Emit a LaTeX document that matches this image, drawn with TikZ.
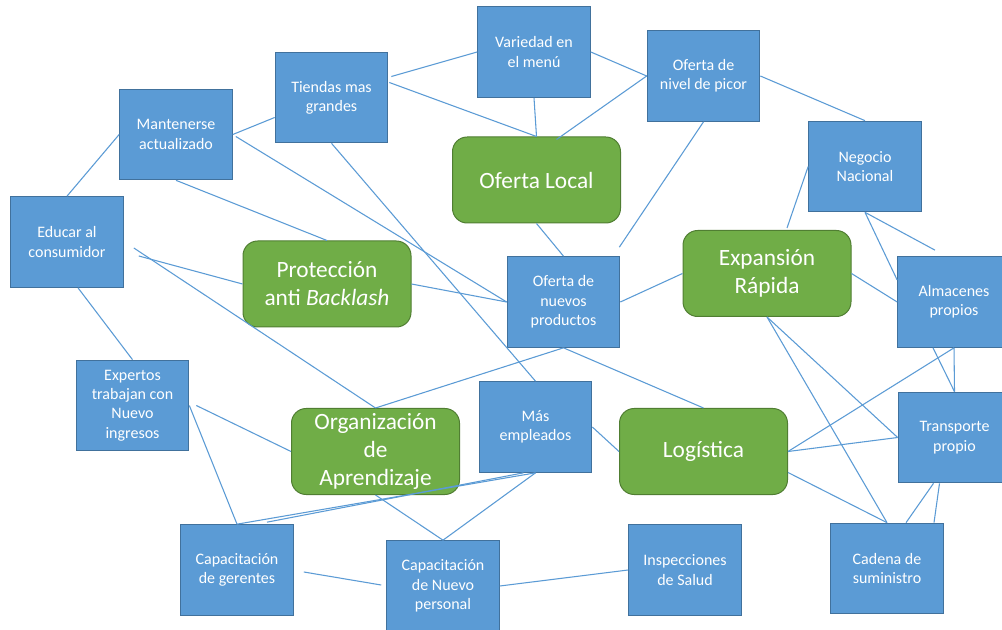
\documentclass[tikz,border=0pt]{standalone}
\usepackage{fontspec}
\setmainfont{Carlito}
\usetikzlibrary{calc}
\definecolor{cajaazul}{HTML}{5B9BD5}
\definecolor{bordeazul}{HTML}{41719C}
\definecolor{cajaverde}{HTML}{70AD47}
\definecolor{bordeverde}{HTML}{507E32}

\begin{document}
\begin{tikzpicture}[x=0.75pt,y=-0.75pt,
        idea/.style={draw=bordeazul,line width=0.75pt,fill=cajaazul,text=white,align=center,
            minimum width=84.5pt,minimum height=68pt,inner sep=1pt,font=\fontsize{12}{14.5}\selectfont},
        tema/.style={draw=bordeverde,line width=0.75pt,fill=cajaverde,text=white,align=center,
            rounded corners=11pt,minimum width=126pt,minimum height=64.5pt,inner sep=1pt,
            font=\fontsize{17.5}{21}\selectfont},
        enlace/.style={draw=cajaazul,line width=0.8pt}]
        %% Frame
        \path[use as bounding box,fill=white] (0,0) rectangle (1002,630);
        %% Main themes
        \node[tema] (local) at (536.5,180) {Oferta Local};
        \node[tema] (proteccion) at (327,284) {Protección\\anti \textit{Backlash}};
        \node[tema] (expansion) at (767,273.5) {Expansión\\Rápida};
        \node[tema] (organizacion) at (375.5,451.5) {Organización\\de\\Aprendizaje};
        \node[tema] (logistica) at (703.5,451.5) {Logística};
        %% Ideas
        \node[idea] (variedad) at (534,52) {Variedad en\\el menú};
        \node[idea] (picor) at (703.5,76) {Oferta de\\nivel de picor};
        \node[idea] (tiendas) at (331.5,97.5) {Tiendas mas\\grandes};
        \node[idea] (mantener) at (176,134.5) {Mantenerse\\actualizado};
        \node[idea] (educar) at (67,242) {Educar al\\consumidor};
        \node[idea] (negocio) at (865,166.5) {Negocio\\Nacional};
        \node[idea] (almacenes) at (954,302) {Almacenes\\propios};
        \node[idea] (transporte) at (954.5,437.5) {Transporte\\propio};
        \node[idea] (cadena) at (887,568.5) {Cadena de\\suministro};
        \node[idea] (inspecciones) at (685,570) {Inspecciones\\de Salud};
        \node[idea] (capnuevo) at (443,586) {Capacitación\\de Nuevo\\personal};
        \node[idea] (capgerentes) at (237,570) {Capacitación\\de gerentes};
        \node[idea] (expertos) at (132.5,405.5) {Expertos\\trabajan con\\Nuevo\\ingresos};
        \node[idea] (nuevos) at (563.5,302) {Oferta de\\nuevos\\productos};
        \node[idea] (empleados) at (535.5,427) {Más\\empleados};
        %% Links, top
        \draw[enlace] ($(tiendas.east)+(3,-21)$) -- (variedad.west);
        \draw[enlace] ($(tiendas.east)+(1,-15)$) -- (local.north);
        \draw[enlace] (variedad.south) -- (local.north);
        \draw[enlace] (variedad.east) -- (picor.west);
        \draw[enlace] (picor.west) -- ($(local.north)+(20,3)$);
        \draw[enlace] (picor.east) -- (negocio.north);
        \draw[enlace] (picor.south) -- ($(nuevos.north east)+(-1,-9)$);
        \draw[enlace] (local.south) -- (nuevos.north);
        %% Links, left
        \draw[enlace] (mantener.east) -- ($(tiendas.west)+(0,20)$);
        \draw[enlace] (mantener.west) -- (educar.north);
        \draw[enlace] (mantener.south) -- (proteccion.north);
        \draw[enlace] ($(mantener.east)+(3,2)$) -- (nuevos.west);
        \draw[enlace] (tiendas.south) -- (empleados.north);
        \draw[enlace] ($(educar.east)+(10,6)$) -- (organizacion.north);
        \draw[enlace] ($(educar.east)+(15,14)$) -- (proteccion.west);
        \draw[enlace] ($(educar.south)+(11,0)$) -- (expertos.north);
        \draw[enlace] (proteccion.east) -- (nuevos.west);
        %% Links, right
        \draw[enlace] (negocio.west) -- ($(expansion.north)+(20,-2)$);
        \draw[enlace] (negocio.south) -- ($(almacenes.west)+(0,-22)$);
        \draw[enlace] (negocio.south) -- ($(almacenes.north)+(-19,-6)$);
        \draw[enlace] (expansion.west) -- (nuevos.east);
        \draw[enlace] (expansion.east) -- (almacenes.west);
        \draw[enlace] (expansion.south) -- (transporte.west);
        \draw[enlace] (expansion.south) -- (cadena.north);
        \draw[enlace] ($(almacenes.south)+(-21,0)$) -- (transporte.north);
        \draw[enlace] (almacenes.south) -- (transporte.north);
        \draw[enlace] (almacenes.south) -- (logistica.east);
        \draw[enlace] (logistica.east) -- (transporte.west);
        \draw[enlace] ($(logistica.east)+(0,21)$) -- (cadena.north);
        \draw[enlace] ($(transporte.south)+(-21,0)$) -- ($(cadena.north)+(19,0)$);
        \draw[enlace] ($(transporte.south)+(-15,0)$) -- ($(cadena.north)+(47,0)$);
        %% Links, bottom
        \draw[enlace] (empleados.east) -- (logistica.west);
        \draw[enlace] (nuevos.south) -- (logistica.north);
        \draw[enlace] (nuevos.south) -- (organizacion.north);
        \draw[enlace] (empleados.south) -- (capgerentes.north);
        \draw[enlace] ($(empleados.south)+(-12,0)$) -- ($(capgerentes.north)+(30,-2)$);
        \draw[enlace] (empleados.south) -- (capnuevo.north);
        \draw[enlace] (organizacion.south) -- (capnuevo.north);
        \draw[enlace] (expertos.east) -- (capgerentes.north);
        \draw[enlace] ($(expertos.east)+(7,0)$) -- (organizacion.west);
        \draw[enlace] ($(capgerentes.east)+(10,2)$) -- ($(capnuevo.west)+(-5,-1)$);
        \draw[enlace] (inspecciones.west) -- (capnuevo.east);
\end{tikzpicture}
\end{document}
